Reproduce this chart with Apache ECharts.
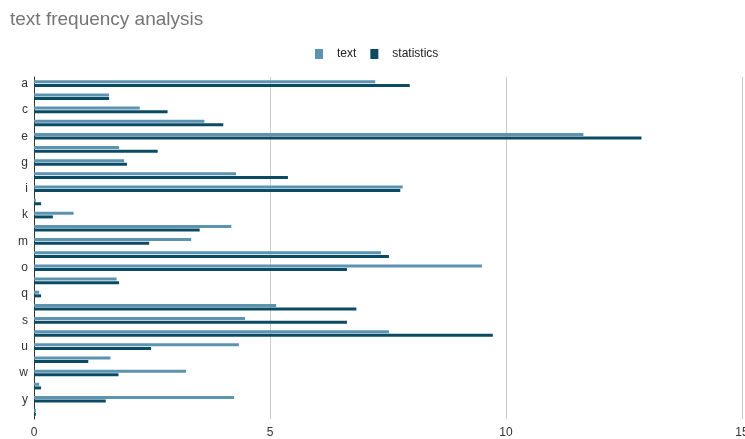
<!DOCTYPE html>
<html>
<head>
<meta charset="utf-8">
<script src="https://cdn.jsdelivr.net/npm/echarts@6/dist/echarts.min.js"></script>
<style>
  html, body { margin: 0; padding: 0; background: #ffffff; }
  #chart { width: 745px; height: 439px; }
</style>
</head>
<body>
<div id="chart"></div>
<script>
// Letter frequencies (percent) in a sample text vs. reference statistics
const letters = ['a','b','c','d','e','f','g','h','i','j','k','l','m','n','o','p','q','r','s','t','u','v','w','x','y','z'];
const textFreq = [7.23, 1.59, 2.24, 3.61, 11.64, 1.80, 1.91, 4.28, 7.81, 0.04, 0.84, 4.18, 3.33, 7.35, 9.49, 1.75, 0.11, 5.13, 4.47, 7.52, 4.34, 1.62, 3.22, 0.11, 4.24, 0.04];
const statsFreq = [7.96, 1.59, 2.83, 4.01, 12.87, 2.62, 1.97, 5.38, 7.76, 0.15, 0.40, 3.51, 2.44, 7.52, 6.63, 1.80, 0.15, 6.83, 6.63, 9.72, 2.48, 1.15, 1.79, 0.15, 1.52, 0.04];
const xTicks = { min: 0, max: 15, interval: 5 };

const chart = echarts.init(document.getElementById('chart'), null, { renderer: 'canvas' });
chart.setOption({
  animation: false,
  color: ['#5b93b1', '#0b4a63'],
  title: {
    text: 'text frequency analysis',
    left: 5,
    top: 5,
    textStyle: { fontFamily: 'Liberation Sans, Arial, sans-serif', fontSize: 19, fontWeight: 'normal', color: '#757575' }
  },
  legend: {
    top: 43,
    left: 310,
    icon: 'rect',
    itemWidth: 8,
    itemHeight: 10,
    itemGap: 14,
    textStyle: { fontFamily: 'Liberation Sans, Arial, sans-serif', fontSize: 12, color: '#222222', padding: [0, 0, 0, 9] },
    data: ['text', 'statistics']
  },
  grid: { left: 34, right: 3, top: 77, bottom: 20, containLabel: false, outerBoundsMode: 'none' },
  xAxis: {
    type: 'value',
    min: xTicks.min,
    max: xTicks.max,
    interval: xTicks.interval,
    axisLine: { show: false },
    axisTick: { show: false },
    axisLabel: { fontFamily: 'Liberation Sans, Arial, sans-serif', fontSize: 12, color: '#333333', margin: 8 },
    splitLine: { show: true, lineStyle: { color: '#cccccc', width: 1 } }
  },
  yAxis: {
    type: 'category',
    inverse: true,
    data: letters,
    axisLine: { show: true, lineStyle: { color: '#333333', width: 1 } },
    axisTick: { show: false },
    axisLabel: { interval: 1, fontFamily: 'Liberation Sans, Arial, sans-serif', fontSize: 12, color: '#333333', margin: 6 },
    splitLine: { show: false }
  },
  series: [
    { name: 'text', type: 'bar', data: textFreq, barWidth: 3, barGap: '20%' },
    { name: 'statistics', type: 'bar', data: statsFreq, barWidth: 3, barGap: '20%' }
  ]
});
</script>
</body>
</html>
